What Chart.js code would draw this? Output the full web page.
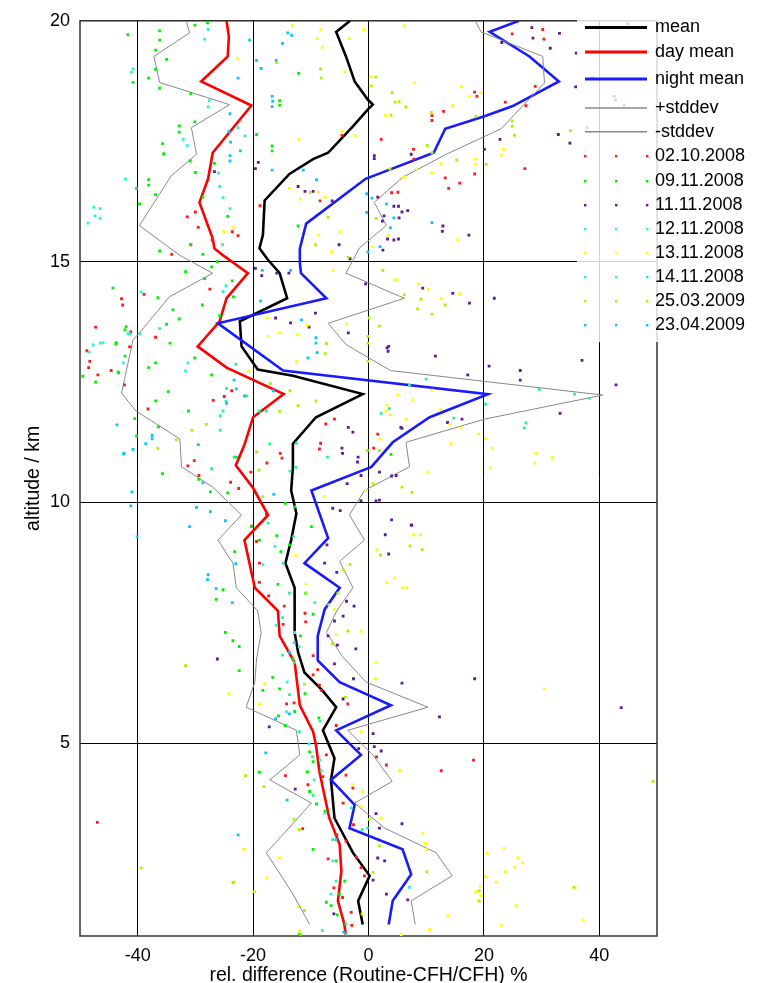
<!DOCTYPE html>
<html>
<head>
<meta charset="utf-8">
<title>rel. difference Routine-CFH</title>
<script src="https://cdnjs.cloudflare.com/ajax/libs/Chart.js/4.4.1/chart.umd.min.js"></script>
<style>
  html, body { margin: 0; padding: 0; background: #fff; }
  canvas { display: block; }
</style>
</head>
<body>
<canvas id="profileChart" width="761" height="983"></canvas>
<script>
// tick values
const xTicks = [-40, -20, 0, 20, 40];
const yTicks = [5, 10, 15, 20];

// profiles, [rel. difference %, altitude km]
const meanLine = [[-3.2,20.0],[-5.6,19.77],[-3.9,19.26],[-2.4,18.74],[-0.1,18.36],[0.75,18.26],[-0.1,18.16],[-2.7,17.81],[-7.0,17.26],[-9.6,17.13],[-13.7,16.82],[-18.0,16.27],[-18.3,15.55],[-18.9,15.28],[-17.5,15.05],[-15.4,14.76],[-14.1,14.24],[-22.3,13.76],[-22.0,13.24],[-19.2,12.76],[-13.1,12.63],[-1.0,12.25],[-9.1,11.77],[-13.1,11.22],[-13.1,10.74],[-13.4,10.25],[-12.5,9.77],[-13.4,9.22],[-14.4,8.74],[-12.8,8.23],[-12.8,7.30],[-12.2,6.89],[-11.1,6.47],[-8.0,6.1],[-5.6,5.75],[-7.9,5.27],[-5.9,4.69],[-6.5,4.24],[-5.9,3.45],[-2.7,2.73],[0.2,2.25],[-1.8,1.73],[-1.0,1.24]];
const dayLine = [[-24.6,20.0],[-24.2,19.67],[-24.4,19.26],[-29.0,18.74],[-20.3,18.24],[-27.0,17.26],[-27.8,16.72],[-29.3,16.23],[-27.0,15.48],[-26.7,15.27],[-25.2,15.13],[-20.9,14.76],[-24.6,14.24],[-25.8,13.76],[-29.6,13.24],[-24.6,12.80],[-14.7,12.25],[-20.0,11.77],[-21.5,11.2],[-23.0,10.77],[-20.0,10.3],[-17.4,9.74],[-21.5,9.22],[-19.7,8.23],[-15.7,7.75],[-15.4,7.23],[-12.8,6.68],[-11.9,5.79],[-9.6,5.24],[-9.1,4.96],[-8.5,4.41],[-6.8,3.45],[-5.0,2.90],[-4.7,2.35],[-5.3,1.73],[-4.2,1.25],[-3.9,1.0]];
const nightLine = [[26.1,20.0],[21.0,19.77],[27.9,19.26],[33.0,18.74],[25.0,18.23],[20.1,18.02],[13.3,17.76],[11.3,17.26],[3.9,16.92],[-0.5,16.72],[-10.8,15.79],[-11.9,15.27],[-11.9,14.97],[-11.7,14.76],[-7.3,14.24],[-26.1,13.72],[-14.8,12.74],[20.7,12.25],[10.6,11.77],[4.2,11.25],[0.5,10.74],[-9.9,10.25],[-7.0,9.26],[-11.1,8.74],[-5.0,8.23],[-7.6,7.78],[-8.8,7.23],[-8.8,6.72],[-5.0,6.27],[3.9,5.79],[-5.6,5.27],[-1.3,4.76],[-6.5,4.24],[-2.4,3.72],[-3.3,3.24],[5.9,2.80],[7.4,2.28],[4.2,1.73],[3.5,1.24]];
const plusStd = [[18.5,20.0],[19.5,19.77],[30.2,19.26],[30.5,18.71],[23.0,17.76],[13.5,17.23],[5.9,16.75],[1.0,16.23],[3.1,15.75],[-1.6,15.28],[-3.9,14.76],[6.2,14.24],[-7.0,13.72],[-3.9,13.28],[3.8,12.74],[40.6,12.23],[20.1,11.73],[6.5,11.25],[7.1,10.74],[-0.7,10.25],[-3.3,9.74],[-0.7,9.22],[-5.0,8.78],[-2.7,8.23],[-5.5,7.75],[-7.3,7.30],[-4.5,6.8],[-0.4,6.27],[10.3,5.75],[-3.6,5.27],[0.75,4.76],[4.1,4.21],[-2.4,3.76],[2.8,3.24],[11.7,2.73],[14.5,2.25],[7.4,1.73],[8.1,1.24]];
const minusStd = [[-31.6,20.0],[-31.0,19.75],[-37.2,19.26],[-36.2,18.72],[-24.1,18.26],[-30.7,17.78],[-29.8,17.23],[-34.2,16.78],[-39.7,15.75],[-32.7,15.13],[-27.0,14.76],[-34.5,14.27],[-39.7,13.52],[-40.8,13.38],[-42.8,12.27],[-40.3,11.9],[-32.7,11.32],[-32.4,10.74],[-27.0,10.32],[-22.0,9.74],[-26.1,9.22],[-23.5,8.74],[-22.9,8.23],[-19.2,7.75],[-18.6,7.30],[-19.4,6.75],[-19.7,6.27],[-21.2,5.75],[-12.5,5.27],[-11.9,4.76],[-17.1,4.24],[-9.9,3.76],[-13.8,3.24],[-17.7,2.73],[-13.1,1.87],[-10.2,1.24]];

// single soundings, [rel. difference %, altitude km]
const s021008 = [[-42.8,14.23],[-42.6,14.1],[-47.3,13.64],[-48.8,13.15],[-48.3,12.93],[-48.5,12.8],[-46.9,12.65],[-44.6,12.74],[-41.4,13.23],[-41.2,13.54],[-42.3,12.44],[-47.0,3.36],[-38.9,14.32],[-36.9,13.43],[-38.2,11.94],[-26.9,12.12],[-23.7,12.32],[-25.0,12.2],[-31.3,10.76],[-30.2,10.87],[-29.4,10.56],[-23.9,10.42],[-22.5,10.29],[-27.5,14.43],[-20.4,10.63],[-17.6,10.82],[-15.3,11.02],[-15.0,10.92],[-7.4,11.63],[-5.9,11.73],[-8.3,11.23],[-8.5,11.11],[2.2,17.54],[5.1,16.44],[-30.0,16.03],[-29.5,15.71],[-31.4,15.93],[-30.8,15.35],[-27.1,15.45],[-22.6,15.54],[-23.6,15.62],[-4.6,17.62],[-34.1,15.15],[-8.4,16.26],[-18.8,16.16],[24.9,19.73],[30.2,19.82],[30.4,19.62],[28.9,18.64],[23.7,18.31],[18.4,18.52],[18.8,18.43],[27.3,18.24],[13.0,18.12],[11.0,18.03],[11.0,17.93],[7.8,17.33],[7.9,17.13],[27.1,16.93],[18.4,16.82],[15.8,16.63],[13.3,16.74],[13.9,16.52],[4.0,16.43],[1.6,11.42],[0.9,11.13],[-17.7,9.76],[-20.3,9.51],[-19.4,9.19],[-18.9,8.74],[-18.9,8.34],[-17.3,8.06],[-14.6,7.85],[-10.9,7.52],[-11.0,7.7],[-14.8,7.47],[-9.6,6.82],[-8.8,6.53],[-8.5,6.21],[-9.6,6.42],[-8.2,6.1],[-3.6,5.82],[-5.6,5.37],[-14.2,5.82],[-12.9,5.84],[-14.4,4.33],[-10.5,4.14],[-7.9,4.31],[-7.3,4.76],[-3.9,4.34],[-4.4,3.76],[-11.4,3.23],[-2.6,3.31],[-3.9,2.97],[-2.1,2.63],[-1.3,2.42],[-0.7,2.25],[-3.0,1.49],[-2.9,1.22],[1.4,4.72],[3.1,4.55],[12.6,4.43],[18.2,4.65],[-2.7,4.07],[-6.0,2.0],[-4.5,1.8],[-7.0,2.6],[-5.5,3.1]];
const s091108 = [[-41.7,19.71],[-40.8,18.72],[-40.2,16.52],[-42.0,13.65],[-42.2,13.04],[-43.7,13.32],[-44.3,14.45],[-43.4,12.71],[-49.5,12.62],[-47.3,12.50],[-40.5,11.74],[-40.2,11.38],[-36.2,19.79],[-36.2,19.60],[-36.9,19.39],[-35.0,19.20],[-36.9,18.99],[-38.1,18.81],[-36.2,18.60],[-32.8,17.82],[-30.1,17.90],[-30.8,18.49],[-32.8,17.69],[-35.7,17.45],[-35.5,17.24],[-30.9,17.09],[-30.0,16.85],[-38.1,16.70],[-38.1,16.59],[-36.9,16.39],[-39.7,16.20],[-26.7,17.04],[-28.7,16.34],[-24.4,15.94],[-16.7,17.30],[-19.4,17.64],[-15.4,18.25],[-15.4,18.34],[-12.1,18.91],[-16.7,17.40],[-30.1,19.91],[-27.9,19.96],[-12.2,15.74],[-26.2,15.00],[-30.8,15.36],[-28.7,15.15],[-36.2,15.22],[-27.2,14.89],[-28.4,14.65],[-31.7,14.79],[-36.5,14.25],[-33.9,14.00],[-32.8,13.81],[-35.0,13.70],[-42.2,13.59],[-34.4,13.31],[-43.8,13.29],[-30.1,13.00],[-38.1,12.80],[-36.9,12.90],[-43.3,12.69],[-36.9,12.11],[-34.7,12.3],[-31.2,11.9],[-36.4,11.57],[-29.5,11.2],[-35.7,10.6],[-29.4,10.48],[-27.4,10.22],[-22.9,10.94],[-24.4,10.2],[-23.4,14.27],[-23.6,14.6],[-25.8,13.88],[-28.8,14.1],[-27.2,12.65],[3.9,11.0],[-20.3,9.5],[-18.9,9.22],[-15.9,9.31],[-15.2,8.98],[-23.2,8.98],[-25.2,8.19],[-26.4,7.99],[-24.8,7.3],[-23.5,7.13],[-22.4,7.01],[-22.4,6.51],[-16.6,6.37],[-12.8,9.91],[-9.9,9.5],[-14.4,9.98],[-13.7,9.12],[-15.7,8.3],[-13.1,6.75],[-14.4,5.37],[-12.8,5.66],[-15.6,5.57],[-15.4,6.13],[-11.0,6.03],[-8.6,5.53],[-9.6,7.68],[-11.8,7.23],[-10.9,8.12],[-18.3,6.1],[-10.2,4.82],[-9.6,4.62],[-10.6,4.41],[-10.2,4.0],[-9.0,3.74],[-7.5,3.59],[-9.6,2.8],[-7.3,1.70],[-6.5,1.63],[-5.4,1.44],[-5.0,1.87],[-4.1,2.14],[-18.9,4.4],[-12.0,1.04],[-5.6,2.56]];
const s111108 = [[-19.6,16.93],[-19.1,17.06],[-12.2,16.56],[-11.0,16.46],[-9.6,16.46],[-6.3,16.26],[-26.7,16.87],[1.0,17.14],[5.2,16.15],[6.8,16.06],[5.3,15.91],[3.3,15.47],[-3.2,15.06],[-5.1,15.35],[5.2,15.47],[28.3,19.86],[28.5,19.64],[33.1,19.74],[31.5,19.43],[23.1,19.55],[35.9,18.63],[32.9,17.64],[34.9,17.46],[22.8,17.54],[20.1,17.33],[1.0,17.2],[7.4,17.23],[1.6,16.34],[4.4,16.15],[5.8,16.03],[2.7,15.95],[2.4,15.84],[12.9,15.74],[12.8,15.63],[17.4,15.55],[4.4,15.45],[2.5,15.24],[44.9,19.94],[42.6,18.43],[42.8,18.35],[44.3,18.25],[38.8,18.82],[37.9,17.78],[36.0,19.33],[-19.6,14.86],[-18.5,14.71],[-15.9,14.76],[-13.8,14.76],[-16.1,13.83],[-13.5,13.73],[-10.3,13.64],[-9.2,13.93],[-3.5,13.52],[-0.5,14.54],[3.2,13.21],[3.4,13.14],[-3.5,11.56],[-2.7,11.46],[-4.6,11.13],[-4.5,11.02],[-1.8,10.94],[-1.9,10.84],[-3.7,10.39],[-1.3,10.56],[5.6,11.56],[4.8,10.56],[1.9,10.05],[-4.9,9.83],[9.4,14.45],[14.6,14.34],[17.5,14.14],[21.8,14.24],[3.5,13.24],[11.6,13.04],[20.9,12.83],[17.2,12.65],[26.3,12.74],[26.3,12.54],[37.0,12.95],[42.9,12.44],[33.2,11.85],[5.8,11.54],[13.7,11.66],[16.2,11.73],[1.9,10.63],[4.0,10.55],[1.3,10.03],[-26.2,6.75],[-17.2,5.34],[-7.6,8.74],[-5.5,8.55],[-3.8,7.95],[-2.5,7.85],[-4.4,7.64],[-5.9,7.54],[-7.0,7.23],[-5.4,7.04],[-2.2,6.96],[-5.9,6.65],[-7.2,9.12],[-6.2,9.88],[-1.3,10.04],[4.0,9.64],[2.9,9.33],[3.5,8.93],[7.4,9.53],[5.8,6.25],[12.3,5.55],[-1.7,4.89],[-2.6,6.34],[-4.4,5.92],[7.5,9.53],[18.4,6.34],[43.8,5.74],[5.8,3.33],[6.8,1.75],[-12.7,4.05],[0.8,5.2],[1.0,4.93],[2.2,4.84],[1.3,3.54],[1.9,3.24],[2.8,2.56],[1.6,2.62],[0.8,2.16],[3.1,1.87],[-6.0,1.46]];
const s121108 = [[-42.1,16.71],[-47.6,16.13],[-46.5,16.1],[-46.5,15.9],[-48.6,15.8],[-47.4,15.95],[-41.1,18.93],[-40.8,19.0],[-48.4,13.12],[-47.7,13.27],[-46.0,13.32],[-41.7,13.5],[-42.5,12.9],[-27.8,19.82],[-28.4,19.62],[-27.8,18.21],[-27.6,18.34],[-32.1,17.54],[-31.4,17.41],[-26.0,16.84],[-25.8,16.56],[-25.2,16.33],[-24.0,16.1],[-25.3,15.35],[-22.6,17.78],[-21.4,17.61],[-39.4,14.37],[-41.4,13.5],[-39.6,13.5],[-46.5,13.31],[-36.2,13.61],[-31.3,12.9],[-31.7,12.73],[-24.7,14.5],[-25.2,14.38],[-16.2,9.09],[-14.8,8.74],[-16.0,7.45],[-12.8,7.3],[-14.1,6.27],[-14.2,5.65],[-9.3,7.92],[-18.3,8.71],[-12.0,7.01],[-10.3,4.99],[-8.4,4.65],[-9.4,4.24],[-7.6,3.55],[-6.2,2.56],[-6.5,1.87],[-3.8,1.04],[-0.2,3.24],[-3.0,3.66],[7.1,2.01]];
const s131108 = [[-13.2,19.91],[-8.3,19.82],[-8.9,19.63],[-8.0,19.45],[-0.8,19.82],[-3.3,19.63],[-4.1,18.94],[-22.7,19.22],[-4.6,17.71],[-2.3,17.61],[-12.1,17.54],[-8.7,16.44],[-11.8,16.3],[-13.7,16.52],[-7.5,16.34],[-8.7,15.55],[-4.9,15.62],[-6.4,15.2],[-23.5,15.71],[-25.1,15.62],[6.2,19.9],[8.0,18.71],[16.1,18.63],[17.5,18.43],[19.5,18.51],[14.6,18.24],[2.9,18.03],[23.4,17.33],[23.0,17.21],[18.5,17.13],[18.5,17.02],[12.6,17.03],[11.0,16.84],[8.3,16.93],[6.1,16.75],[3.4,15.55],[15.5,15.45],[0.5,18.84],[0.6,15.31],[-6.1,14.82],[2.4,14.82],[-3.8,13.7],[4.7,14.62],[-10.6,13.68],[-12.3,13.48],[-17.4,13.45],[-15.4,13.52],[-12.5,12.93],[-20.7,12.73],[-17.5,13.83],[3.0,11.9],[2.0,11.32],[-0.4,10.25],[4.9,14.62],[8.7,14.54],[10.3,14.43],[12.6,14.23],[15.8,14.33],[7.7,12.13],[5.1,12.23],[3.2,12.02],[3.8,11.82],[6.5,11.73],[12.5,11.93],[14.1,11.62],[16.0,11.55],[19.1,11.42],[20.3,11.33],[21.5,11.13],[29.0,11.02],[31.8,10.93],[28.8,10.82],[21.1,10.71],[14.3,11.22],[10.3,10.63],[11.0,12.33],[-7.7,10.12],[7.8,9.33],[1.4,9.02],[3.2,8.33],[4.5,8.43],[5.9,8.23],[-1.3,7.33],[1.3,6.68],[1.2,6.34],[-12.6,8.91],[-10.8,8.3],[-18.0,6.24],[-24.2,6.03],[-18.9,5.82],[-5.9,7.78],[-5.6,7.26],[-1.3,5.24],[9.0,9.33],[6.6,8.23],[30.5,6.13],[5.5,4.44],[9.4,3.13],[9.9,2.92],[23.5,2.82],[20.6,2.72],[25.9,2.62],[26.7,2.52],[25.3,2.43],[23.7,2.33],[20.3,2.23],[22.1,2.12],[19.4,2.03],[18.6,1.92],[19.6,1.84],[19.0,1.73],[25.6,1.63],[37.2,1.33],[13.8,1.42],[10.6,1.13],[23.0,1.22],[5.7,1.02],[35.8,2.01],[-2.7,4.14],[-1.0,4.0],[-1.2,3.69],[2.2,3.45],[5.4,4.43],[10.0,2.8],[-1.1,1.46],[-12.0,1.11],[-15.4,2.62],[-17.6,2.21],[-21.6,2.8]];
const s141108 = [[-21.1,12.21],[-24.7,12.1],[-25.2,11.9],[-25.7,11.8],[-25.7,11.5],[-17.7,11.9],[-18.9,11.9],[-23.0,12.87],[-27.2,10.7],[-23.3,10.94],[-13.6,10.65],[-12.6,10.73],[-7.1,10.94],[-12.5,11.23],[-17.1,11.22],[-24.6,12.37],[10.0,12.56],[7.1,12.44],[3.6,11.95],[2.2,11.85],[14.8,11.75],[27.3,11.65],[27.0,11.55],[29.6,12.35],[38.3,12.16],[35.7,12.25],[20.3,12.04],[-13.0,9.29],[-13.7,8.12],[-14.9,7.61],[-14.9,6.83],[-13.7,6.01],[-8.4,5.46],[-17.4,9.57],[-12.8,6.68],[-12.0,5.24],[-9.7,4.72],[-8.2,4.43],[-9.6,3.92],[-6.2,3.0],[-5.6,2.14],[-3.9,1.25],[-8.0,1.11],[-1.1,3.21]];
const s250309 = [[-8.3,19.0],[-8.2,18.81],[-15.9,19.13],[0.5,18.65],[5.3,18.32],[6.5,18.21],[3.9,18.04],[1.3,18.83],[-10.1,16.44],[-7.0,15.92],[-9.2,15.35],[-3.5,15.09],[1.3,15.9],[4.1,18.51],[4.6,18.31],[10.9,18.1],[18.6,18.02],[24.9,17.92],[24.9,17.81],[25.3,17.62],[35.0,17.72],[10.2,17.41],[11.0,17.26],[15.3,17.11],[20.4,17.02],[3.7,16.92],[-17.0,12.47],[-13.6,12.32],[-9.1,12.11],[-12.2,12.01],[-7.5,13.09],[-7.3,13.3],[-19.4,11.05],[-15.4,11.89],[-28.1,11.62],[-30.6,11.5],[-33.3,11.3],[-36.5,11.12],[1.9,13.66],[-0.1,13.45],[-0.1,13.31],[-0.1,12.93],[-0.2,11.08],[1.9,11.08],[-19.0,10.67],[-18.3,10.12],[2.5,14.82],[6.2,14.31],[9.1,14.22],[13.3,14.1],[8.5,14.02],[11.0,13.91],[0.1,13.83],[5.8,10.32],[7.5,10.21],[0.8,10.39],[-31.7,6.61],[-10.8,8.12],[-6.9,7.88],[-5.3,8.12],[-4.4,8.6],[-3.2,8.71],[-3.6,7.33],[-6.3,7.07],[7.2,9.1],[2.1,8.91],[-11.1,6.23],[-4.0,5.96],[9.3,9.02],[49.3,4.21],[10.1,2.33],[35.6,2.01],[-21.3,4.33],[-18.1,4.1],[-12.9,3.42],[-12.0,3.21],[-12.0,1.61],[-19.8,1.92],[-23.5,2.11],[1.9,2.87],[0.8,2.32],[0.1,3.42],[19.2,1.94],[19.2,1.73],[-39.4,2.41],[-23.3,2.12],[-11.1,1.53],[-11.7,1.04]];
const s230409 = [[-43.6,11.61],[-42.4,11.02],[-40.8,11.1],[-41.0,10.22],[-41.2,9.93],[-40.1,9.29],[-22.6,18.81],[-20.6,19.6],[-19.4,19.18],[-18.6,19.01],[-16.7,18.43],[-16.7,18.22],[-16.6,18.33],[-13.3,19.7],[-14.9,19.53],[-16.0,19.18],[-14.0,19.75],[-24.0,18.07],[-24.2,17.7],[-23.9,17.48],[-24.0,17.2],[-24.0,17.09],[-22.2,17.3],[-16.7,16.9],[-9.0,16.7],[-11.3,16.9],[11.0,15.81],[3.1,16.2],[0.6,16.32],[-0.3,16.02],[4.4,15.91],[3.8,15.7],[2.0,15.31],[-0.1,15.2],[-0.3,16.41],[-23.3,12.54],[-22.9,12.36],[-21.5,12.21],[-24.6,12.06],[-16.5,12.32],[-18.7,14.18],[-18.4,14.82],[-13.5,14.82],[-10.5,13.0],[-9.1,13.42],[-9.1,13.31],[-8.9,13.11],[-11.6,13.79],[-37.5,11.39],[-37.5,11.32],[-38.6,11.22],[-42.4,11.01],[-28.7,10.41],[-16.4,10.17],[-29.8,9.9],[-27.4,9.81],[-24.8,9.62],[-31.0,9.5],[-23.0,8.73],[-27.8,8.5],[-27.9,8.4],[-26.4,8.21],[-23.6,7.92],[-13.7,6.89],[-16.1,5.51],[-13.7,5.61],[-12.8,7.09],[-17.8,4.80],[-14.1,3.82],[-22.6,3.1],[-5.6,3.0],[-4.3,1.08]];

const seriesNames = ["mean", "day mean", "night mean", "+stddev", "-stddev",
  "02.10.2008", "09.11.2008", "11.11.2008", "12.11.2008",
  "13.11.2008", "14.11.2008", "25.03.2009", "23.04.2009"];
const seriesData = [meanLine, dayLine, nightLine, plusStd, minusStd,
  s021008, s091108, s111108, s121108, s131108, s141108, s250309, s230409];
const seriesColors = ["#000000", "#ff0000", "#1a1aff", "#888888", "#888888",
  "#ff1a1a", "#00f000", "#5c1a94", "#33f0d0", "#ffff00", "#2ef096", "#a8f500", "#12c0ff"];

const FONT = '"Liberation Sans", Arial, Helvetica, sans-serif';
Chart.defaults.font.family = FONT;
Chart.defaults.color = "#000";

function toPoints(arr) {
  return arr.map((p) => ({ x: p[0], y: p[1] }));
}

const datasets = seriesNames.map((name, i) => {
  const isLine = i < 5;
  return {
    label: name,
    data: toPoints(seriesData[i]),
    showLine: isLine,
    borderColor: seriesColors[i],
    backgroundColor: seriesColors[i],
    borderWidth: isLine ? (i < 3 ? 2.6 : 1) : 0,
    pointRadius: isLine ? 0 : 2,
    pointStyle: "rect",
    pointBorderWidth: 0,
    tension: 0,
    fill: false,
    order: 13 - i,
  };
});

// frame round the plot area (top and right are not drawn by the axes)
const framePlugin = {
  id: "frame",
  beforeDatasetsDraw(chart) {
    const { ctx, chartArea: a } = chart;
    ctx.save();
    ctx.strokeStyle = "#333";
    ctx.lineWidth = 1.5;
    ctx.strokeRect(a.left, a.top, a.right - a.left, a.bottom - a.top);
    ctx.restore();
  },
};

// gnuplot style key, semi transparent box over the plot
const keyRows = [27.5, 52, 79, 108, 131.7, 156, 181, 205, 229, 253, 277, 301, 325];
const keyPlugin = {
  id: "key",
  afterDraw(chart) {
    const ctx = chart.ctx;
    ctx.save();
    ctx.fillStyle = "rgba(255,255,255,0.82)";
    ctx.fillRect(577, 16, 184, 326);
    ctx.font = "18px " + FONT;
    ctx.textBaseline = "middle";
    ctx.textAlign = "left";
    chart.data.datasets.forEach((ds, i) => {
      const y = keyRows[i];
      if (ds.showLine) {
        ctx.strokeStyle = ds.borderColor;
        ctx.lineWidth = i < 3 ? 3 : 1.5;
        ctx.beginPath();
        ctx.moveTo(585, y);
        ctx.lineTo(647, y);
        ctx.stroke();
      } else {
        ctx.fillStyle = ds.backgroundColor;
        [585, 616, 647].forEach((x) => ctx.fillRect(x - 1, y - 1, 2.4, 2.4));
      }
      ctx.fillStyle = "#000";
      ctx.fillText(ds.label, 655, y);
    });
    ctx.restore();
  },
};

const ctx = document.getElementById("profileChart").getContext("2d");

const config = {
  type: "scatter",
  data: { datasets: datasets },
  options: {
    responsive: false,
    animation: false,
    events: [],
    layout: { padding: { top: 14, right: 104, left: 0, bottom: 0 } },
    plugins: {
      legend: { display: false },
      tooltip: { enabled: false },
    },
    scales: {
      x: {
        type: "linear",
        min: -50,
        max: 50,
        afterBuildTicks: (scale) => {
          scale.ticks = xTicks.map((v) => ({ value: v }));
        },
        afterFit: (scale) => {
          scale.height = 47;
        },
        grid: { color: "#000", lineWidth: 1, drawTicks: false },
        border: { display: false },
        ticks: { padding: 9, maxRotation: 0, autoSkip: false, font: { size: 18 }, color: "#000" },
        title: {
          display: true,
          text: "rel. difference (Routine-CFH/CFH) %",
          font: { size: 19.5 },
          color: "#000",
          padding: { top: 0, bottom: -4 },
        },
      },
      y: {
        type: "linear",
        min: 1,
        max: 20,
        afterBuildTicks: (scale) => {
          scale.ticks = yTicks.map((v) => ({ value: v }));
        },
        afterFit: (scale) => {
          scale.width = 80;
        },
        grid: { color: "#000", lineWidth: 1, drawTicks: false },
        border: { display: false },
        ticks: { padding: 10, autoSkip: false, font: { size: 18 }, color: "#000" },
        title: {
          display: true,
          text: "altitude / km",
          font: { size: 19.5 },
          color: "#000",
          padding: { top: 22, bottom: 0 },
        },
      },
    },
  },
  plugins: [framePlugin, keyPlugin],
};

const profileChart = new Chart(ctx, config);
</script>
</body>
</html>
